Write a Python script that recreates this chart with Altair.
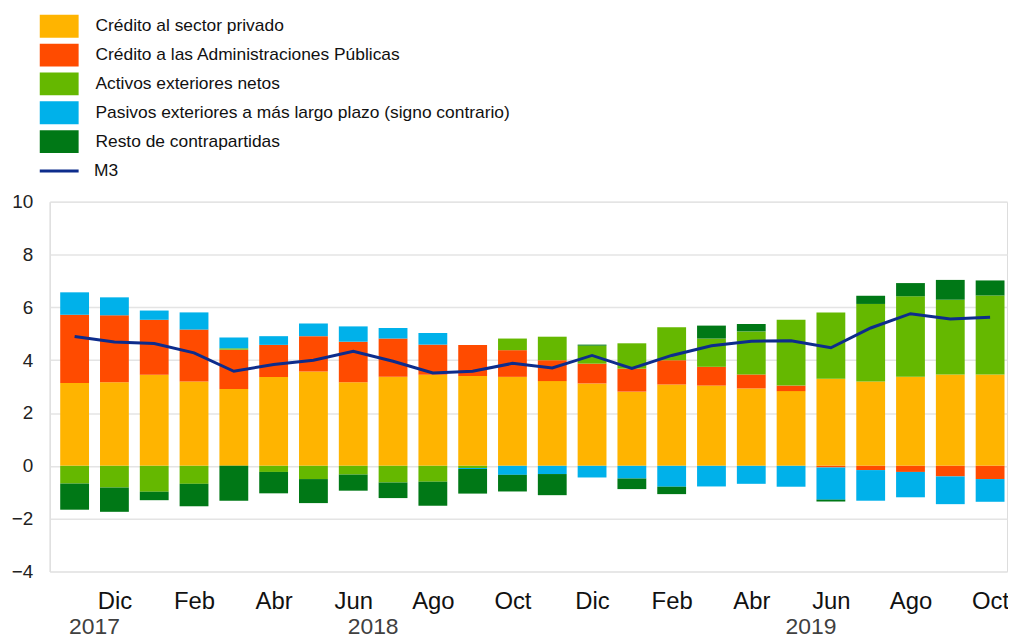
import json
import altair as alt
import pandas as pd

meses = ["Nov", "Dic", "Ene", "Feb", "Mar", "Abr", "May", "Jun", "Jul", "Ago", "Sep", "Oct",
         "Nov", "Dic", "Ene", "Feb", "Mar", "Abr", "May", "Jun", "Jul", "Ago", "Sep", "Oct"]
anios = [2017, 2017, 2018, 2018, 2018, 2018, 2018, 2018, 2018, 2018, 2018, 2018,
         2018, 2018, 2019, 2019, 2019, 2019, 2019, 2019, 2019, 2019, 2019, 2019]

privado = [3.14, 3.17, 3.45, 3.19, 2.91, 3.36, 3.57, 3.17, 3.37, 3.45, 3.40, 3.37,
           3.21, 3.12, 2.81, 3.08, 3.04, 2.93, 2.83, 3.30, 3.19, 3.37, 3.46, 3.46]
aapp = [2.58, 2.53, 2.08, 1.97, 1.49, 1.22, 1.34, 1.53, 1.45, 1.14, 1.18, 1.01,
        0.79, 0.75, 0.87, 0.92, 0.71, 0.53, 0.21, -0.06, -0.16, -0.23, -0.40, -0.50]
activos = [-0.67, -0.82, -0.98, -0.68, 0.05, -0.23, -0.50, -0.33, -0.63, -0.60, -0.08, 0.44,
           0.89, 0.68, 0.96, 1.25, 1.07, 1.63, 2.49, 2.51, 2.94, 3.05, 2.83, 2.99]
pasivos = [0.85, 0.68, 0.35, 0.65, 0.41, 0.33, 0.48, 0.58, 0.40, 0.44, -0.04, -0.34,
           -0.31, -0.44, -0.48, -0.79, -0.78, -0.68, -0.79, -1.22, -1.16, -0.96, -1.05, -0.86]
resto = [-0.99, -0.92, -0.32, -0.85, -1.32, -0.81, -0.91, -0.61, -0.59, -0.91, -0.93, -0.63,
         -0.80, 0.04, -0.40, -0.28, 0.49, 0.28, 0.0, -0.07, 0.31, 0.50, 0.75, 0.57]
m3 = [4.90, 4.69, 4.63, 4.28, 3.58, 3.84, 4.00, 4.34, 3.96, 3.52, 3.58, 3.88,
      3.71, 4.18, 3.69, 4.18, 4.55, 4.72, 4.74, 4.47, 5.22, 5.76, 5.56, 5.63]

series = ["Crédito al sector privado",
          "Crédito a las Administraciones Públicas",
          "Activos exteriores netos",
          "Pasivos exteriores a más largo plazo (signo contrario)",
          "Resto de contrapartidas"]
colores = ["#FFB400", "#FF4B00", "#65B800", "#00B1EA", "#007816"]

rows = []
for k, (name, vals) in enumerate(zip(series, [privado, aapp, activos, pasivos, resto])):
    for i, v in enumerate(vals):
        rows.append({"i": i, "serie": name, "orden": k, "valor": v})
df = pd.DataFrame(rows)
df_m3 = pd.DataFrame({"i": list(range(len(m3))), "valor": m3, "serie": "M3"})

# year labels centred on the span of months of each year
yr_rows = []
for y in sorted(set(anios)):
    idx = [i for i, a in enumerate(anios) if a == y]
    yr_rows.append({"x": (idx[0] + idx[-1]) / 2, "t": str(y)})
df_yr = pd.DataFrame(yr_rows)

FONT = "Liberation Sans"
W, H = 963, 372
label_expr = json.dumps(meses) + "[datum.value]"

xscale = alt.Scale(domain=[-0.5, 23.3], nice=False, zero=False)
yscale = alt.Scale(domain=[-4, 10], nice=False)

x_enc = alt.X("i:Q", scale=xscale,
              axis=alt.Axis(values=list(range(1, 24, 2)), labelExpr=label_expr,
                            grid=False, ticks=False, domain=False, title=None,
                            labelFontSize=24, labelPadding=18, labelColor="#111111",
                            labelFont=FONT, labelFlush=False, labelOverlap=False))
y_enc = alt.Y("valor:Q", scale=yscale, stack="zero",
              axis=alt.Axis(values=[-4, -2, 0, 2, 4, 6, 8, 10], grid=True,
                            gridColor="#e4e4e4", gridWidth=1.5, ticks=False,
                            domainColor="#e0e0e0", domainWidth=1.5, title=None,
                            labelFontSize=19, labelPadding=17, labelColor="#222222",
                            labelFont=FONT))

bars = alt.Chart(df).mark_bar(size=29).encode(
    x=x_enc,
    y=y_enc,
    order=alt.Order("orden:Q", sort="ascending"),
    fill=alt.Fill("serie:N", scale=alt.Scale(domain=series, range=colores),
                  legend=alt.Legend(orient="none", legendX=-10, legendY=-188, title=None,
                                    symbolType="M-1.7,-1H1.7V1H-1.7Z", symbolSize=529,
                                    symbolStrokeWidth=0, symbolOffset=8, labelOffset=25,
                                    rowPadding=6, labelFontSize=17.5, labelFont=FONT,
                                    labelColor="#111111", padding=0, labelLimit=700,
                                    symbolOpacity=1)),
)

line = alt.Chart(df_m3).mark_line(strokeWidth=3).encode(
    x=alt.X("i:Q", scale=xscale),
    y=alt.Y("valor:Q", scale=yscale),
    stroke=alt.Stroke("serie:N", scale=alt.Scale(domain=["M3"], range=["#0D2C8C"]),
                      legend=alt.Legend(orient="none", legendX=-10, legendY=-44, title=None,
                                        symbolType="M-1.7,0H1.7", symbolSize=529,
                                        symbolStrokeWidth=3, symbolOffset=6.5, labelOffset=22,
                                        labelFontSize=17.5, labelFont=FONT,
                                        labelColor="#111111", padding=0)),
)

years = alt.Chart(df_yr).mark_text(fontSize=23, font=FONT, color="#404040",
                                   baseline="top", align="center").encode(
    x=alt.X("x:Q", scale=xscale),
    y=alt.value(H + 45),
    text="t:N",
)

chart = alt.layer(bars, line, years).resolve_scale(fill="independent", stroke="independent").properties(
    width=W, height=H,
    autosize=alt.AutoSizeParams(type="none"),
    padding={"left": 42, "top": 193, "right": 1, "bottom": 65},
).configure_view(stroke=None).configure(font=FONT)

chart.save("out.html", embed_options={"renderer": "svg", "actions": False})
